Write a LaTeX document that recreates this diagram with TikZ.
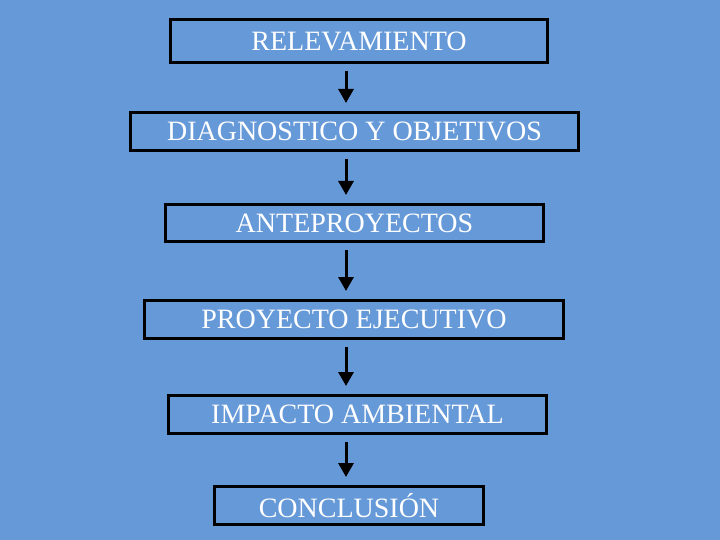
\documentclass[tikz,border=0pt]{standalone}
\usepackage{fontspec}
\setmainfont{Liberation Serif}
\usetikzlibrary{arrows.meta}
\definecolor{bgblue}{RGB}{102,153,216}

\begin{document}
\begin{tikzpicture}[
  x=1pt, y=-1pt,
  font=\fontsize{28}{32}\selectfont,
  box/.style={draw=black, line width=3pt, text=white, inner sep=0pt, minimum height=38pt},
  arrow/.style={-{Triangle[length=14pt,width=15pt]}, line width=3pt, shorten <=7pt, shorten >=8pt}
]

\fill[bgblue] (0,0) rectangle (720,540);

\node[box, minimum width=377pt, minimum height=43pt] (rel) at (359, 41) {RELEVAMIENTO};
\node[box, minimum width=448pt] (diag) at (354.5, 131.5) {DIAGNOSTICO Y OBJETIVOS};
\node[box, minimum width=378pt, minimum height=37pt] (ante) at (354.5, 223) {ANTEPROYECTOS};
\node[box, minimum width=419pt] (proy) at (354, 319.5) {PROYECTO EJECUTIVO};
\node[box, minimum width=378pt] (imp) at (357.5, 414.5) {IMPACTO AMBIENTAL};
\node[box, minimum width=269pt] (conc) at (349, 505.5) {CONCLUSIÓN};

\coordinate (ax) at (346, 0);
\draw[arrow] (rel.south -| ax) -- (diag.north -| ax);
\draw[arrow] (diag.south -| ax) -- (ante.north -| ax);
\draw[arrow] (ante.south -| ax) -- (proy.north -| ax);
\draw[arrow] (proy.south -| ax) -- (imp.north -| ax);
\draw[arrow] (imp.south -| ax) -- (conc.north -| ax);

\end{tikzpicture}
\end{document}
